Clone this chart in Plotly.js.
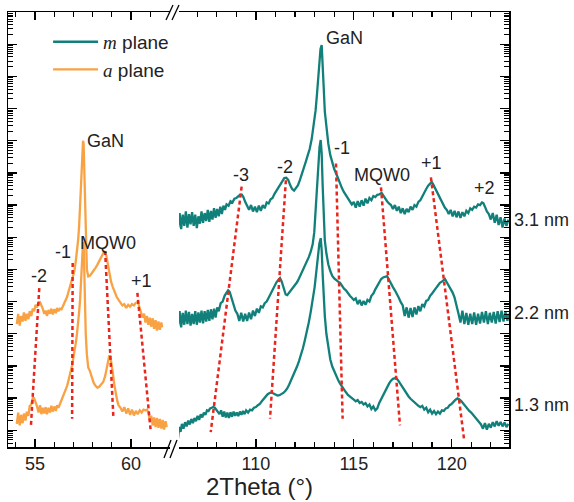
<!DOCTYPE html>
<html>
<head>
<meta charset="utf-8">
<script src="https://cdn.plot.ly/plotly-3.0.1.min.js"></script>
<style>html,body{margin:0;padding:0;background:#fff;}#chart{width:574px;height:502px;}</style>
</head>
<body>
<div id="chart"></div>
<script>
// ---- data: 2Theta (deg) and log10(intensity, a.u., curves offset) ----
// a plane (left panel)
const aUpperX = [54.05,54.12,54.2,54.27,54.35,54.42,54.5,54.57,54.65,54.72,54.8,54.88,54.95,55.03,55.1,55.18,55.26,55.33,55.4,55.48,55.55,55.62,55.7,55.78,55.85,55.92,56.0,56.08,56.15,56.22,56.3,56.38,56.45,56.52,56.6,56.67,56.73,56.8,56.87,56.93,56.98,57.05,57.12,57.18,57.25,57.3,57.35,57.4,57.45,57.5,57.53,57.56,57.6,57.64,57.7,57.77,57.85,57.95,58.05,58.15,58.25,58.35,58.45,58.55,58.62,58.66,58.72,58.8,58.88,58.96,59.05,59.15,59.25,59.35,59.45,59.55,59.65,59.75,59.85,59.95,60.05,60.15,60.25,60.33,60.38,60.45,60.52,60.6,60.68,60.75,60.83,60.9,60.98,61.05,61.13,61.2,61.28,61.35,61.43,61.5,61.58,61.62];
const aUpperY = [3.30,3.62,3.25,3.55,3.38,3.66,3.40,3.62,3.45,3.70,3.55,3.78,3.70,3.90,3.82,3.98,3.98,3.90,3.78,3.62,3.72,3.55,3.74,3.62,3.78,3.60,3.76,3.64,3.80,3.70,3.78,3.76,3.86,3.92,4.05,4.15,4.28,4.42,4.58,4.72,4.82,4.95,5.25,5.55,5.95,6.40,7.05,7.80,8.55,9.00,8.90,8.10,6.70,5.60,5.00,4.78,4.80,4.88,4.95,5.05,5.15,5.28,5.40,5.50,5.55,5.54,5.40,5.15,4.85,4.62,4.45,4.28,4.15,4.05,3.98,3.88,3.92,3.80,3.90,3.84,3.92,3.88,3.96,3.98,3.94,3.78,3.62,3.50,3.62,3.35,3.55,3.28,3.50,3.22,3.48,3.15,3.42,3.10,3.38,3.12,3.35,3.20];
const aLowerX = [54.05,54.12,54.2,54.27,54.35,54.42,54.5,54.57,54.65,54.72,54.8,54.88,54.95,55.03,55.1,55.18,55.26,55.33,55.4,55.48,55.55,55.62,55.7,55.78,55.85,55.92,56.0,56.08,56.15,56.22,56.3,56.38,56.45,56.52,56.6,56.67,56.73,56.8,56.87,56.93,56.98,57.05,57.12,57.18,57.25,57.3,57.35,57.4,57.45,57.5,57.53,57.56,57.6,57.64,57.7,57.77,57.85,57.95,58.05,58.15,58.25,58.35,58.45,58.55,58.65,58.72,58.8,58.86,58.92,58.98,59.05,59.12,59.2,59.28,59.35,59.45,59.55,59.65,59.75,59.85,59.95,60.05,60.15,60.25,60.35,60.45,60.55,60.65,60.75,60.83,60.9,60.98,61.05,61.13,61.2,61.28,61.35,61.43,61.5,61.58,61.65,61.72,61.8,61.86];
const aLowerY = [0.20,0.55,0.15,0.48,0.22,0.52,0.30,0.58,0.45,0.75,0.80,1.00,1.00,0.88,0.75,0.55,0.78,0.50,0.70,0.52,0.72,0.50,0.70,0.55,0.76,0.58,0.74,0.60,0.78,0.70,0.82,0.90,1.02,1.12,1.25,1.38,1.52,1.68,1.85,2.02,2.20,2.42,2.70,2.98,3.35,3.70,4.10,4.60,5.25,5.85,5.80,5.10,3.90,3.00,2.35,1.95,1.85,1.62,1.48,1.38,1.32,1.36,1.42,1.50,1.68,1.92,2.15,2.30,2.30,2.10,1.80,1.45,1.15,0.92,0.78,0.70,0.58,0.72,0.52,0.68,0.48,0.64,0.46,0.60,0.50,0.62,0.55,0.64,0.62,0.64,0.55,0.30,0.45,0.15,0.40,0.10,0.38,0.08,0.35,0.05,0.32,0.02,0.28,0.10];

// m plane (right panel), 3.1 nm / 2.2 nm / 1.3 nm
const m31X = [106.02,106.1,106.18,106.26,106.34,106.42,106.5,106.58,106.66,106.74,106.82,106.9,106.98,107.06,107.14,107.22,107.3,107.38,107.46,107.54,107.62,107.7,107.78,107.86,107.94,108.02,108.1,108.18,108.26,108.34,108.42,108.5,108.6,108.7,108.8,108.9,109.0,109.1,109.2,109.28,109.36,109.45,109.55,109.65,109.75,109.85,109.95,110.05,110.15,110.25,110.35,110.45,110.55,110.65,110.75,110.85,110.95,111.05,111.15,111.25,111.35,111.45,111.55,111.65,111.75,111.85,111.95,112.05,112.15,112.25,112.35,112.45,112.55,112.65,112.75,112.85,112.95,113.05,113.12,113.18,113.24,113.3,113.36,113.41,113.46,113.52,113.6,113.7,113.8,113.9,114.0,114.1,114.2,114.3,114.4,114.5,114.6,114.7,114.8,114.9,115.0,115.1,115.2,115.3,115.4,115.5,115.6,115.7,115.8,115.9,116.0,116.1,116.2,116.3,116.42,116.5,116.6,116.7,116.8,116.9,117.0,117.1,117.2,117.3,117.4,117.5,117.6,117.7,117.8,117.9,118.0,118.1,118.2,118.3,118.4,118.5,118.6,118.7,118.8,118.9,118.98,119.05,119.15,119.25,119.35,119.45,119.55,119.65,119.75,119.85,119.95,120.05,120.15,120.25,120.35,120.45,120.55,120.65,120.75,120.85,120.95,121.05,121.15,121.25,121.35,121.45,121.55,121.62,121.7,121.8,121.9,122.0,122.1,122.2,122.3,122.4,122.5,122.6,122.7,122.8,122.9];
const m31Y = [6.30,6.75,6.25,6.70,6.35,6.80,6.30,6.72,6.40,6.78,6.35,6.70,6.28,6.65,6.42,6.80,6.45,6.75,6.50,6.85,6.48,6.82,6.55,6.90,6.60,6.88,6.65,6.95,6.72,6.98,6.85,7.02,6.98,7.12,7.08,7.20,7.22,7.28,7.32,7.32,7.25,7.10,6.95,6.85,7.00,6.80,6.95,6.78,6.98,6.82,7.00,6.90,7.08,7.05,7.18,7.22,7.35,7.45,7.58,7.68,7.78,7.84,7.85,7.78,7.62,7.50,7.45,7.52,7.62,7.78,7.95,8.15,8.35,8.55,8.75,9.05,9.45,9.95,10.45,10.90,11.40,11.85,11.97,11.50,10.70,9.90,9.35,8.90,8.55,8.30,8.12,7.98,7.82,7.65,7.52,7.40,7.30,7.18,7.12,7.02,7.10,6.92,7.12,6.95,7.15,6.98,7.20,7.05,7.22,7.15,7.28,7.25,7.32,7.33,7.38,7.30,7.22,7.12,7.05,7.00,6.88,7.00,6.82,6.95,6.75,6.90,6.72,6.88,6.78,6.95,6.85,7.00,6.95,7.10,7.15,7.28,7.40,7.50,7.60,7.68,7.72,7.65,7.52,7.40,7.28,7.18,7.05,6.92,6.85,6.72,6.85,6.65,6.82,6.62,6.80,6.60,6.78,6.65,6.82,6.75,6.90,6.85,6.95,6.92,7.02,7.00,7.08,7.06,6.95,6.80,6.72,6.55,6.75,6.45,6.70,6.38,6.62,6.30,6.58,6.35,6.55];
const m22X = [106.02,106.1,106.18,106.26,106.34,106.42,106.5,106.58,106.66,106.74,106.82,106.9,106.98,107.06,107.14,107.22,107.3,107.38,107.46,107.54,107.62,107.7,107.78,107.86,107.94,108.02,108.1,108.2,108.3,108.4,108.5,108.58,108.66,108.75,108.85,108.95,109.05,109.15,109.25,109.35,109.45,109.55,109.65,109.75,109.85,109.95,110.05,110.15,110.25,110.35,110.45,110.55,110.65,110.75,110.85,110.95,111.05,111.15,111.23,111.32,111.42,111.52,111.6,111.7,111.8,111.9,112.0,112.1,112.2,112.3,112.4,112.5,112.6,112.7,112.8,112.9,112.98,113.05,113.12,113.18,113.25,113.31,113.36,113.41,113.46,113.52,113.6,113.7,113.8,113.9,114.0,114.1,114.2,114.3,114.4,114.5,114.6,114.7,114.8,114.9,115.0,115.1,115.2,115.3,115.4,115.5,115.6,115.7,115.8,115.9,116.0,116.1,116.2,116.3,116.4,116.5,116.6,116.7,116.8,116.9,117.0,117.1,117.2,117.3,117.4,117.5,117.6,117.7,117.8,117.9,118.0,118.1,118.2,118.3,118.4,118.5,118.6,118.7,118.8,118.9,119.0,119.1,119.2,119.3,119.4,119.5,119.6,119.66,119.75,119.85,119.95,120.05,120.15,120.25,120.35,120.45,120.55,120.65,120.75,120.85,120.95,121.05,121.15,121.25,121.35,121.45,121.55,121.65,121.75,121.85,121.95,122.05,122.15,122.25,122.35,122.45,122.55,122.65,122.75,122.85,122.92];
const m22Y = [3.25,3.70,3.20,3.65,3.28,3.72,3.30,3.68,3.25,3.62,3.30,3.70,3.28,3.66,3.35,3.72,3.32,3.70,3.38,3.74,3.40,3.76,3.45,3.78,3.50,3.82,3.70,3.95,4.00,4.18,4.28,4.35,4.30,4.12,3.92,3.72,3.62,3.40,3.65,3.38,3.62,3.40,3.66,3.45,3.72,3.55,3.78,3.65,3.85,3.82,3.95,4.00,4.12,4.25,4.35,4.48,4.60,4.68,4.73,4.62,4.40,4.22,4.20,4.28,4.38,4.45,4.52,4.60,4.72,4.85,4.98,5.10,5.22,5.38,5.55,5.78,6.15,6.80,7.60,8.25,8.80,9.02,8.60,7.60,6.60,5.90,5.50,5.15,4.95,4.80,4.72,4.66,4.62,4.58,4.48,4.40,4.35,4.25,4.18,4.12,4.05,4.10,3.92,4.05,3.88,4.02,3.90,4.05,4.00,4.18,4.25,4.38,4.50,4.62,4.70,4.75,4.78,4.79,4.68,4.55,4.45,4.35,4.25,4.12,3.98,3.88,3.55,3.82,3.50,3.80,3.52,3.82,3.60,3.86,3.70,3.92,3.85,4.02,4.05,4.18,4.25,4.35,4.42,4.50,4.58,4.62,4.68,4.70,4.60,4.50,4.40,4.28,4.12,3.90,3.62,3.35,3.72,3.30,3.65,3.28,3.62,3.30,3.66,3.28,3.62,3.32,3.68,3.35,3.70,3.30,3.65,3.35,3.68,3.32,3.70,3.36,3.72,3.38,3.68,3.40,3.62];
const m13X = [106.02,106.08,106.15,106.22,106.3,106.38,106.46,106.54,106.62,106.7,106.78,106.86,106.94,107.02,107.1,107.18,107.26,107.34,107.42,107.5,107.58,107.66,107.74,107.82,107.9,107.98,108.06,108.14,108.22,108.3,108.38,108.46,108.54,108.62,108.7,108.78,108.86,108.94,109.02,109.1,109.18,109.26,109.34,109.42,109.5,109.6,109.7,109.8,109.9,110.0,110.1,110.2,110.3,110.4,110.5,110.6,110.7,110.8,110.9,111.0,111.1,111.2,111.3,111.4,111.5,111.6,111.7,111.8,111.9,112.0,112.1,112.2,112.3,112.4,112.5,112.6,112.7,112.8,112.9,113.0,113.08,113.16,113.24,113.31,113.36,113.41,113.46,113.52,113.6,113.7,113.8,113.9,114.0,114.1,114.2,114.3,114.4,114.5,114.6,114.7,114.8,114.9,115.0,115.1,115.2,115.3,115.4,115.5,115.6,115.7,115.8,115.9,116.0,116.1,116.2,116.3,116.4,116.5,116.6,116.7,116.8,116.9,117.0,117.1,117.2,117.3,117.4,117.5,117.6,117.7,117.8,117.9,118.0,118.1,118.2,118.3,118.4,118.5,118.6,118.7,118.8,118.9,119.0,119.1,119.2,119.3,119.4,119.5,119.6,119.7,119.8,119.9,120.0,120.1,120.2,120.3,120.4,120.5,120.6,120.7,120.8,120.9,121.0,121.1,121.2,121.3,121.4,121.5,121.6,121.7,121.8,121.9,122.0,122.1,122.2,122.3,122.4,122.5,122.6,122.7,122.8,122.9];
const m13Y = [-0.25,0.10,-0.05,0.20,0.05,0.25,0.12,0.30,0.18,0.35,0.22,0.38,0.28,0.45,0.32,0.50,0.40,0.55,0.48,0.62,0.60,0.68,0.70,0.72,0.70,0.62,0.58,0.50,0.62,0.42,0.58,0.40,0.55,0.38,0.56,0.42,0.58,0.45,0.55,0.44,0.58,0.48,0.60,0.50,0.62,0.55,0.64,0.62,0.70,0.72,0.78,0.82,0.90,0.98,1.05,1.12,1.16,1.18,1.14,1.10,1.08,1.09,1.12,1.16,1.22,1.30,1.42,1.55,1.68,1.82,1.98,2.15,2.32,2.55,2.80,3.05,3.35,3.68,4.05,4.45,4.90,5.40,5.80,5.97,5.60,4.85,4.20,3.55,3.00,2.55,2.20,1.98,1.82,1.68,1.56,1.45,1.35,1.26,1.18,1.10,1.04,0.98,0.95,0.90,0.94,0.85,0.88,0.80,0.84,0.74,0.80,0.66,0.74,0.62,0.68,0.85,0.98,1.10,1.22,1.35,1.45,1.54,1.60,1.62,1.60,1.52,1.42,1.32,1.22,1.12,1.05,0.98,0.92,0.86,0.80,0.76,0.72,0.76,0.64,0.70,0.56,0.64,0.52,0.60,0.50,0.58,0.52,0.62,0.60,0.68,0.70,0.78,0.82,0.90,0.95,0.99,0.96,0.90,0.82,0.75,0.68,0.60,0.55,0.48,0.42,0.35,0.28,0.18,0.05,0.22,0.02,0.20,0.08,0.25,0.12,0.28,0.14,0.26,0.12,0.24,0.10,0.20];

// satellite guide lines: [x_top, x_bottom], [logI_top, logI_bottom]
const guideLeftX = [[55.22,54.78],[56.96,56.93],[58.65,59.08],[60.33,61.03]];
const guideLeftY = [[4.42,0.10],[5.20,0.36],[5.57,0.41],[4.27,-0.05]];
const guideRightX = [[109.27,107.69],[111.53,110.72],[114.09,114.43],[116.39,117.36],[118.94,120.63]];
const guideRightY = [[7.57,-0.06],[7.77,0.36],[8.29,0.36],[7.55,0.15],[7.86,-0.26]];

// peak labels
const leftLabels = ["GaN","MQW0","-1","-2","+1"];
const leftLabelX = [58.65,58.82,56.47,55.22,60.56];
const leftLabelY = [9.00,5.82,5.54,4.79,4.63];
const rightLabels = ["GaN","-3","-2","-1","MQW0","+1","+2"];
const rightLabelX = [114.55,109.22,111.48,114.38,116.42,118.97,121.70];
const rightLabelY = [12.18,7.93,8.19,8.76,7.93,8.31,7.52];
const thickLabels = ["3.1 nm","2.2 nm","1.3 nm"];
const thickLabelY = [6.53,3.64,0.77];

// ---- drawing ----
const TEAL = '#12807a', ORANGE = '#f8a244', RED = '#e8261e';
const FONT = 'Arial, "Liberation Sans", sans-serif';
const pw = v => v.map(e => Math.pow(10, e));

const traces = [];
traces.push({x:m31X, y:pw(m31Y), xaxis:'x2', yaxis:'y2', mode:'lines', line:{color:TEAL, width:2.3},
  name:'<span style="font-family:\'Liberation Serif\',\'Times New Roman\',serif"><i>m</i></span> plane', legendgroup:'m', showlegend:true});
traces.push({x:aUpperX, y:pw(aUpperY), xaxis:'x', yaxis:'y', mode:'lines', line:{color:ORANGE, width:2.3},
  name:'<span style="font-family:\'Liberation Serif\',\'Times New Roman\',serif"><i>a</i></span> plane', legendgroup:'a', showlegend:true});
traces.push({x:aLowerX, y:pw(aLowerY), xaxis:'x', yaxis:'y', mode:'lines', line:{color:ORANGE, width:2.3}, showlegend:false});
traces.push({x:m22X, y:pw(m22Y), xaxis:'x2', yaxis:'y2', mode:'lines', line:{color:TEAL, width:2.3}, showlegend:false});
traces.push({x:m13X, y:pw(m13Y), xaxis:'x2', yaxis:'y2', mode:'lines', line:{color:TEAL, width:2.3}, showlegend:false});
guideLeftX.forEach((gx,i) => traces.push({x:gx, y:pw(guideLeftY[i]), xaxis:'x', yaxis:'y', mode:'lines',
  line:{color:RED, width:2.5, dash:'4px,3px'}, showlegend:false, hoverinfo:'skip'}));
guideRightX.forEach((gx,i) => traces.push({x:gx, y:pw(guideRightY[i]), xaxis:'x2', yaxis:'y2', mode:'lines',
  line:{color:RED, width:2.5, dash:'4px,3px'}, showlegend:false, hoverinfo:'skip'}));

const annotations = [];
const lblFont = {family:FONT, size:18, color:'#222'};
leftLabels.forEach((t,i) => annotations.push({text:t, x:leftLabelX[i], y:leftLabelY[i], xref:'x', yref:'y', showarrow:false, font:lblFont}));
rightLabels.forEach((t,i) => annotations.push({text:t, x:rightLabelX[i], y:rightLabelY[i], xref:'x2', yref:'y2', showarrow:false, font:lblFont}));
thickLabels.forEach((t,i) => annotations.push({text:t, x:1.005, y:thickLabelY[i], xref:'paper', yref:'y2', xanchor:'left', showarrow:false, font:{family:FONT, size:18, color:'#222'}}));

const L = 8, R = 509, T = 12, B = 447;
const px = p => (p - L) / (R - L);
const py = p => (B - p) / (B - T);
annotations.push({text:'2Theta (°)', x:px(259), y:py(487), xref:'paper', yref:'paper', xanchor:'center', yanchor:'middle', showarrow:false,
  font:{family:FONT, size:24, color:'#222'}});
const brk = (x0,y0,x1,y1) => ({type:'line', xref:'paper', yref:'paper', x0:px(x0), y0:py(y0), x1:px(x1), y1:py(y1), line:{color:'#000', width:1.3}});
const shapes = [brk(166,20,173,5), brk(172,20,179,5), brk(164,458,171,440), brk(170,458,177,440)];

const xCommon = {showline:true, linecolor:'#000', linewidth:1.5, mirror:'ticks', ticks:'inside', ticklen:8, tickwidth:1.3, tickcolor:'#000',
  dtick:5, tick0:0, minor:{ticks:'inside', ticklen:5, tickwidth:1.2, tickcolor:'#000', dtick:1},
  showgrid:false, zeroline:false, tickfont:{family:FONT, size:18, color:'#222'}};
const yCommon = {type:'log', range:[-0.52, 13], showline:true, linecolor:'#000', linewidth:1.5, ticks:'inside', ticklen:9, tickwidth:1.3,
  tickcolor:'#000', dtick:1, showticklabels:false, showgrid:false, zeroline:false,
  minor:{ticks:'inside', ticklen:5, tickwidth:1, tickcolor:'#000', dtick:'D1'}};

const layout = {
  width:574, height:502,
  margin:{l:L, r:574-R, t:T, b:502-B},
  paper_bgcolor:'#fff', plot_bgcolor:'#fff',
  showlegend:true,
  legend:{x:0.08, y:0.975, xanchor:'left', yanchor:'top', bgcolor:'rgba(0,0,0,0)', borderwidth:0,
    font:{family:FONT, size:19, color:'#222'}, tracegroupgap:0, itemwidth:45},
  xaxis:Object.assign({}, xCommon, {domain:[0, px(170)], range:[53.59, 62.03], anchor:'y'}),
  xaxis2:Object.assign({}, xCommon, {domain:[px(179), 1], range:[106.07, 122.93], anchor:'y2'}),
  yaxis:Object.assign({}, yCommon, {anchor:'x', side:'left'}),
  yaxis2:Object.assign({}, yCommon, {anchor:'x2', side:'right', overlaying:'y'}),
  annotations, shapes
};
Plotly.newPlot('chart', traces, layout, {staticPlot:true, displayModeBar:false});
</script>
</body>
</html>
